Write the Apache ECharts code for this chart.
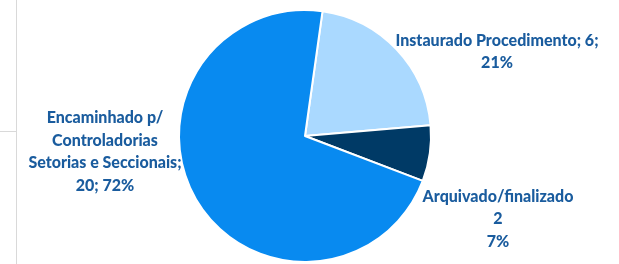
<!DOCTYPE html>
<html>
<head>
<meta charset="utf-8">
<script src="https://cdn.jsdelivr.net/npm/echarts@6/dist/echarts.min.js"></script>
<style>
  html, body { margin: 0; padding: 0; background: #fff; }
  #chart { width: 619px; height: 264px; }
</style>
</head>
<body>
<div id="chart"></div>
<script>
// dados
const categorias = ['Instaurado Procedimento', 'Arquivado/finalizado', 'Encaminhado p/ Controladorias Setorias e Seccionais'];
const valores = [6, 2, 20];
const percentuais = ['21%', '7%', '72%'];
const cores = ['#AAD9FF', '#003A66', '#088AF0'];

// textos dos rótulos como aparecem no original
const rotulos = [
  categorias[0] + '; ' + valores[0] + ';\n' + percentuais[0],
  categorias[1] + '\n' + valores[1] + '\n' + percentuais[1],
  'Encaminhado p/\nControladorias\nSetorias e Seccionais;\n' + valores[2] + '; ' + percentuais[2]
];
// posição (centro) de cada rótulo
const posRotulos = [[497, 52], [498, 219], [105, 152]];

let myChart = echarts.init(document.getElementById('chart'));
myChart.setOption({
  animation: false,
  // linhas cinza da borda à esquerda
  graphic: [
    { type: 'line', shape: { x1: 16.5, y1: 0, x2: 16.5, y2: 264 }, style: { stroke: '#d9d9d9', lineWidth: 1 } },
    { type: 'line', shape: { x1: 0, y1: 131.5, x2: 16, y2: 131.5 }, style: { stroke: '#d9d9d9', lineWidth: 1 } }
  ],
  series: [{
    type: 'pie',
    center: [305, 136],
    radius: 126,
    startAngle: 82,
    clockwise: true,
    avoidLabelOverlap: false,
    data: categorias.map((nome, i) => ({
      name: nome,
      value: valores[i],
      itemStyle: { color: cores[i] }
    })),
    itemStyle: { borderColor: '#fff', borderWidth: 2 },
    label: {
      show: true,
      position: 'outside',
      formatter: p => rotulos[p.dataIndex],
      color: '#1A5C9E',
      fontFamily: 'Lato',
      fontWeight: 900,
      fontSize: 16,
      lineHeight: 22.5,
      align: 'center'
    },
    labelLine: { show: false },
    labelLayout: params => ({
      x: posRotulos[params.dataIndex][0],
      y: posRotulos[params.dataIndex][1],
      align: 'center',
      verticalAlign: 'middle'
    }),
    emphasis: { disabled: true }
  }]
});
</script>
</body>
</html>
